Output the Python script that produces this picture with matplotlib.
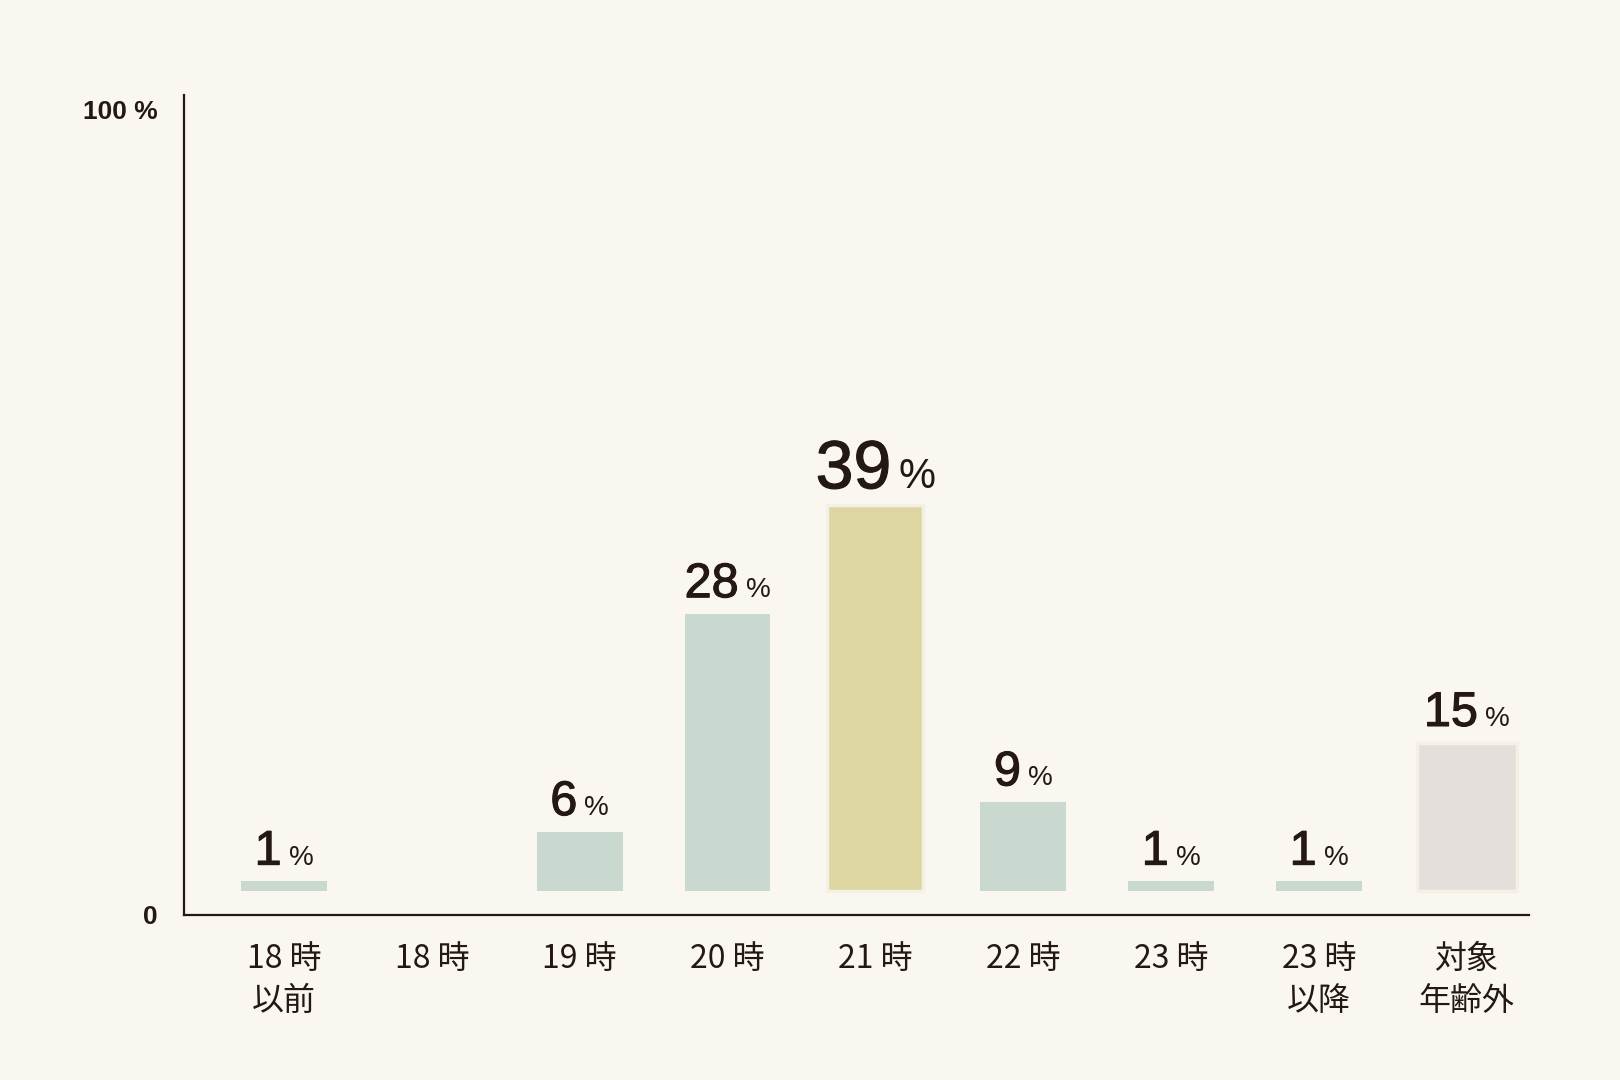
import numpy as np
import matplotlib.pyplot as plt
import matplotlib.patheffects as pe

# data
categories = ["18 時\n以前", "18 時", "19 時", "20 時", "21 時", "22 時", "23 時", "23 時\n以降", "対象\n年齢外"]
values = [1, 0, 6, 28, 39, 9, 1, 1, 15]
highlight = 4      # 21 時
outside = 8        # 対象年齢外

bg = "#faf7f1"
ink = "#231815"
c_bar = "#c9d9d0"
c_high = "#ddd6a0"
c_out = "#e5dfdb"

plt.rcParams["font.family"] = ["Noto Sans CJK JP", "DejaVu Sans"]
num_font = ["Liberation Sans", "DejaVu Sans"]

fig = plt.figure(figsize=(16.2, 10.8), dpi=100, facecolor=bg)
ax = fig.add_axes([0.1136, 0.1528, 0.8302, 0.7593])
ax.set_facecolor(bg)

base = 2.4   # bars float a little above the axis line
x = np.arange(len(categories))
colors = []
widths = []
for i in x:
    if i == highlight:
        colors.append(c_high); widths.append(0.65)
    elif i == outside:
        colors.append(c_out); widths.append(0.68)
    else:
        colors.append(c_bar); widths.append(0.58)

bars = ax.bar(x, values, width=widths, bottom=base, color=colors, zorder=2)
# rough light frame on the two special bars
for i in (highlight, outside):
    bars[i].set_edgecolor("#f3f0e6")
    bars[i].set_linewidth(2.5)

ax.set_xlim(-0.676, 8.42)
ax.set_ylim(0, 82.8)

for s in ["top", "right"]:
    ax.spines[s].set_visible(False)
for s in ["left", "bottom"]:
    ax.spines[s].set_color(ink)
    ax.spines[s].set_linewidth(1.6)

ax.set_xticks(x)
ax.set_xticklabels(categories, fontsize=23, color=ink, linespacing=1.4, va="top")
ax.set_yticks([0, 81.3])
ax.set_yticklabels(["0", "100 %"], fontsize=19, color=ink, fontweight="bold", family=num_font)
ax.tick_params(axis="x", length=0, pad=20)
ax.tick_params(axis="y", length=0, pad=19)

# value labels: big number + small %, numbers thickened a little with a stroke
thick = [pe.withStroke(linewidth=0.8, foreground=ink)]
labels = []
for i, v in enumerate(values):
    if v == 0:
        continue
    big = i == highlight
    nsize, psize = (49, 30) if big else (35, 20)
    gap = 5
    t_num = ax.annotate(str(v), xy=(i, base + v), xytext=(0, 12), textcoords="offset points",
                        ha="right", va="baseline", fontsize=nsize, color=ink,
                        family=num_font, path_effects=thick)
    t_pct = ax.annotate("%", xy=(i, base + v), xytext=(gap, 12), textcoords="offset points",
                        ha="left", va="baseline", fontsize=psize, color=ink, family=num_font)
    labels.append((t_num, t_pct, gap))

fig.canvas.draw()
r = fig.canvas.get_renderer()
for t_num, t_pct, gap in labels:
    wn = t_num.get_window_extent(r).width * 72 / fig.dpi
    wp = t_pct.get_window_extent(r).width * 72 / fig.dpi
    a = (wn - wp - gap) / 2
    t_num.xyann = (a, 12)
    t_pct.xyann = (a + gap, 12)

fig.savefig("out.png", dpi=100, facecolor=bg)
